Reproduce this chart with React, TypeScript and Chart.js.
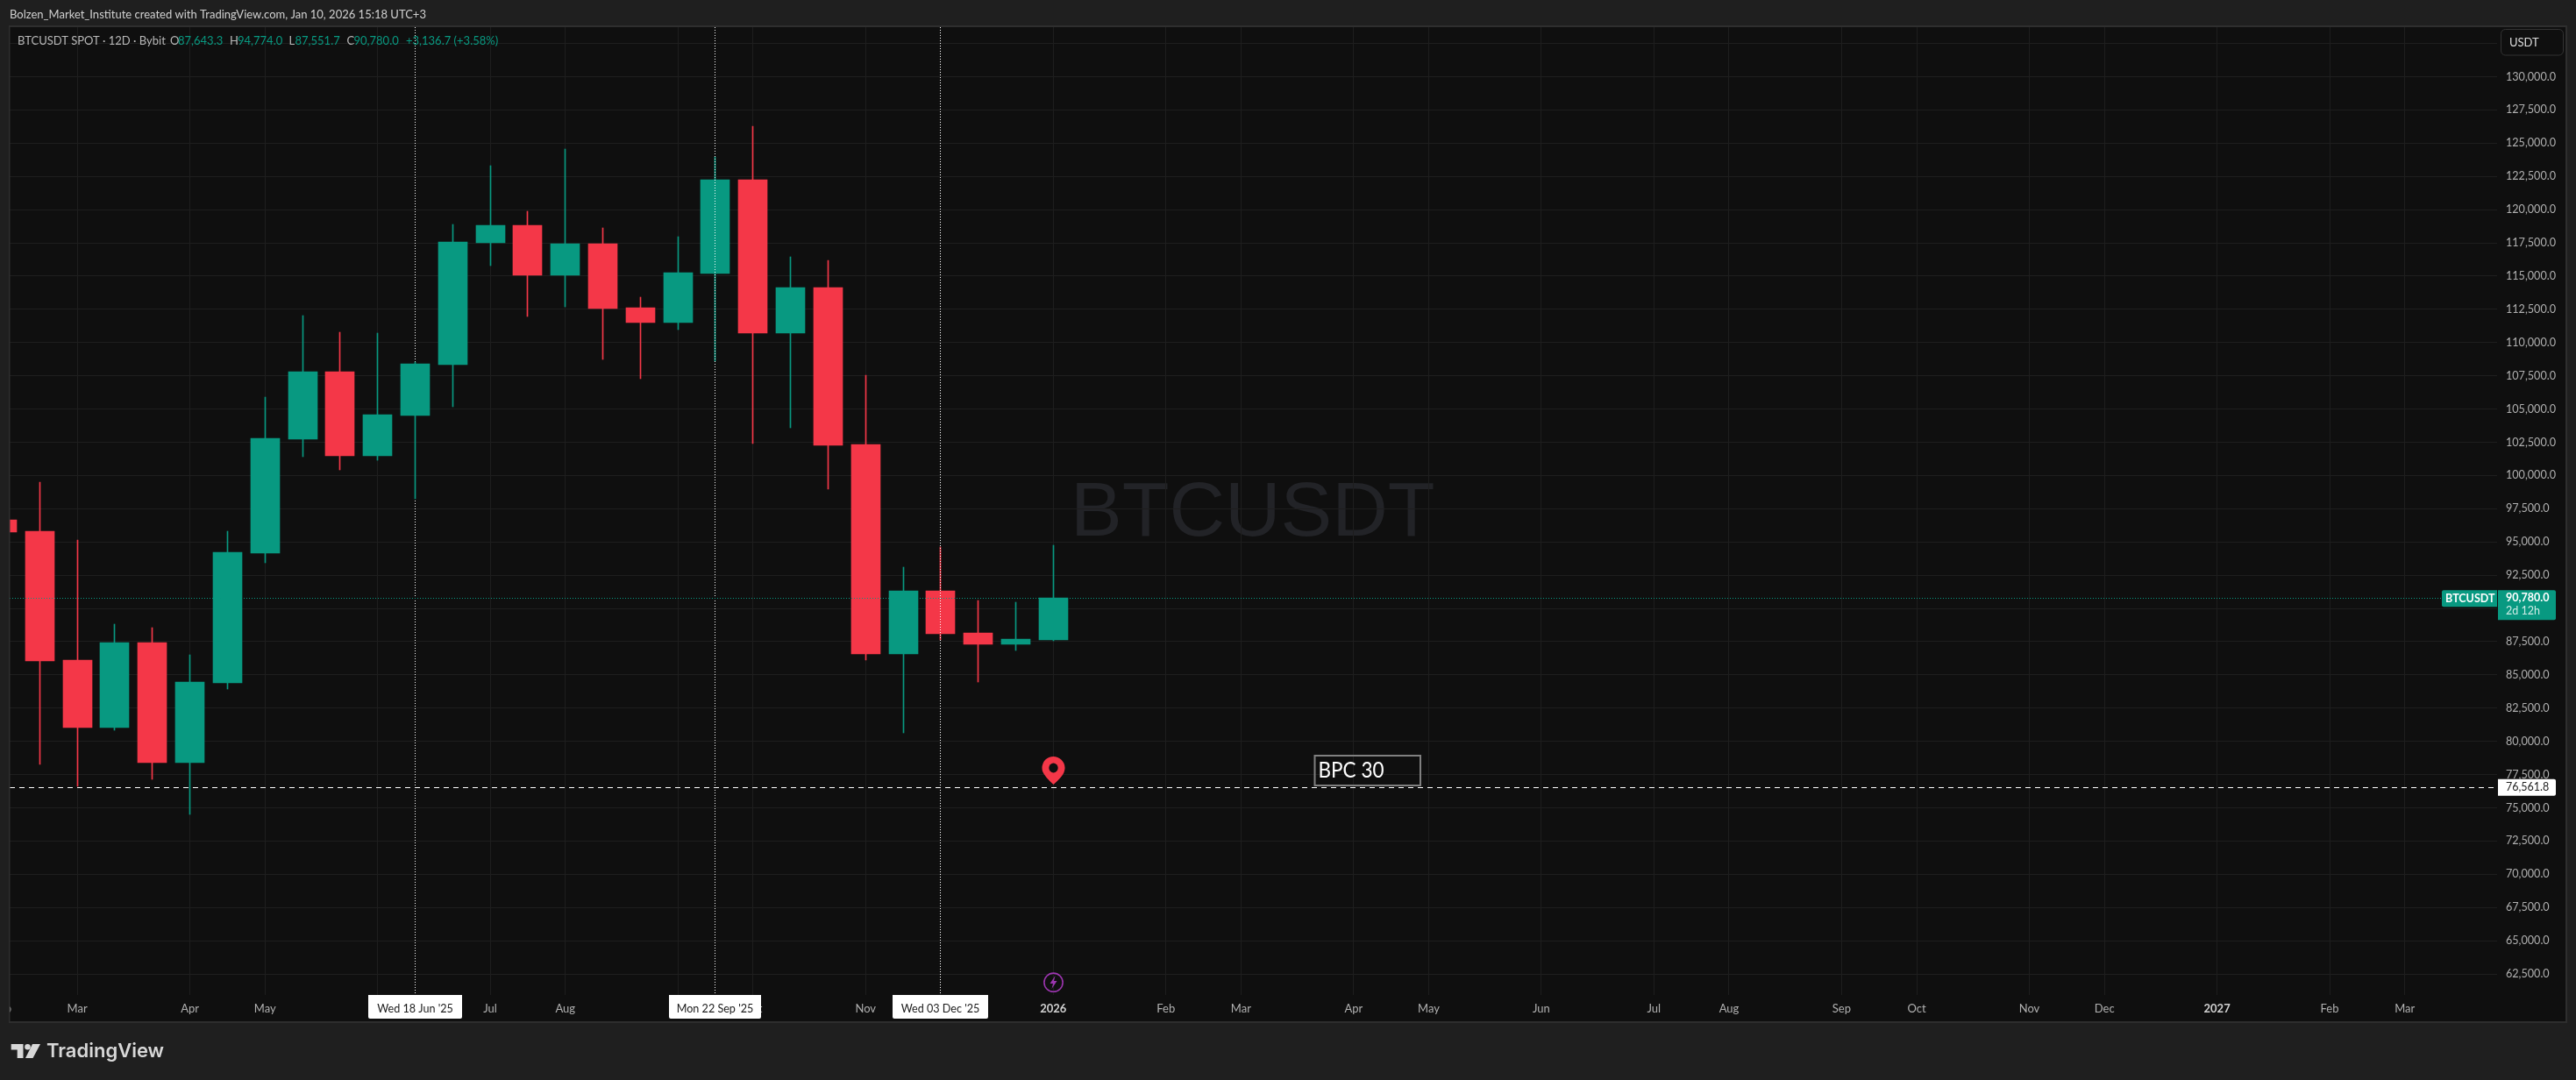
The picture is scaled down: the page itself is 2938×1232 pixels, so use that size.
import React, { useEffect, useRef } from "react";
import { Chart, registerables } from "chart.js";

Chart.register(...registerables);

const W = 2938;
const H = 1232;

// 12D bars, bar index 0 is the first full candle at the left edge
const barIndex = [-1, 0, 1, 2, 3, 4, 5, 6, 7, 8, 9, 10, 11, 12, 13, 14, 15, 16, 17, 18, 19, 20, 21, 22, 23, 24, 25, 26, 27];
const opens = [96664, 95806, 86112, 81034, 87431, 78396, 84398, 94158, 102731, 107809, 101478, 104511, 108336, 117503, 118822, 115063, 117437, 112623, 111502, 115195, 122251, 110710, 114140, 102335, 86574, 91322, 88157, 87299, 87643.3];
const highs = [96664, 99500, 95147, 88816, 88552, 86508, 95806, 105896, 112029, 110776, 110710, 108534, 118888, 123306, 119877, 124559, 118624, 113414, 117965, 123966, 126274, 116448, 116184, 107545, 93103, 94619, 90597, 90465, 94774];
const lows = [95740, 78284, 76600, 80856, 77163, 74525, 83936, 93432, 101412, 100423, 101148, 98246, 105171, 115788, 111963, 112689, 108732, 107281, 110974, 108600, 102421, 103588, 98972, 86112, 80639, 87629, 84464, 86838, 87551.7];
const closes = [95740, 86046, 81034, 87431, 78396, 84464, 94224, 102797, 107809, 101478, 104577, 108402, 117569, 118822, 115063, 117437, 112557, 111502, 115261, 122251, 110710, 114140, 102269, 86574, 91322, 88091, 87299, 87695, 90780];

const priceTicks = [62500, 65000, 67500, 70000, 72500, 75000, 77500, 80000, 82500, 85000, 87500, 90000, 92500, 95000, 97500, 100000, 102500, 105000, 107500, 110000, 112500, 115000, 117500, 120000, 122500, 125000, 127500, 130000, 132500];
const priceLabels = ["62,500.0", "65,000.0", "67,500.0", "70,000.0", "72,500.0", "75,000.0", "77,500.0", "80,000.0", "82,500.0", "85,000.0", "87,500.0", "90,000.0", "92,500.0", "95,000.0", "97,500.0", "100,000.0", "102,500.0", "105,000.0", "107,500.0", "110,000.0", "112,500.0", "115,000.0", "117,500.0", "120,000.0", "122,500.0", "125,000.0", "127,500.0", "130,000.0", ""];

const timeTickIndex = [-1, 1, 4, 6, 9, 12, 14, 17, 19, 22, 24, 27, 30, 32, 35, 37, 40, 43, 45, 48, 50, 53, 55, 58, 61, 63];
const timeTickLabels = ["Feb", "Mar", "Apr", "May", "Jun", "Jul", "Aug", "Sep", "Oct", "Nov", "Dec", "2026", "Feb", "Mar", "Apr", "May", "Jun", "Jul", "Aug", "Sep", "Oct", "Nov", "Dec", "2027", "Feb", "Mar"];

const crosshairIndex = [10, 18, 24];
const crosshairLabels = ["Wed 18 Jun '25", "Mon 22 Sep '25", "Wed 03 Dec '25"];
const crosshairTagWidths = [107, 105, 109];

const lastPrice = 90780.0;
const horizontalLevel = 76561.8;
const markerIndex = 27;

const GREEN = "#089981";
const RED = "#F43748";
const PANE = "#0F0F0F";
const OUTER = "#1F1F1F";
const FRAME = "#2E2E2E";
const GRID = "#1E1E1E";
const FONT = "Lato";

const isUp = (i: number) => closes[i] >= opens[i];
const candleColors = barIndex.map((_, i) => (isUp(i) ? GREEN : RED));

function text(ctx: CanvasRenderingContext2D, s: string, x: number, y: number, font: string, color: string, align: CanvasTextAlign = "left", maxWidth?: number) {
  ctx.font = font;
  ctx.fillStyle = color;
  ctx.textAlign = align;
  ctx.textBaseline = "middle";
  if (maxWidth) ctx.fillText(s, x, y, maxWidth);
  else ctx.fillText(s, x, y);
}

function crosshair(ctx: CanvasRenderingContext2D, chart: any, i: number) {
  const x = Math.floor(chart.scales.x.getPixelForValue(crosshairIndex[i])) + 0.5;
  ctx.save();
  ctx.strokeStyle = "#FFFFFF";
  ctx.lineWidth = 1;
  ctx.setLineDash([1, 2]);
  ctx.beginPath();
  ctx.moveTo(x, 31);
  ctx.lineTo(x, 1135);
  ctx.stroke();
  ctx.restore();
}

const tvPlugin = {
  id: "tvOverlay",
  beforeDraw(chart: any) {
    const ctx = chart.ctx as CanvasRenderingContext2D;
    ctx.save();
    ctx.fillStyle = PANE;
    ctx.fillRect(0, 0, W, H);
    ctx.font = `88px "Liberation Sans"`;
    ctx.fillStyle = "#222327";
    ctx.textAlign = "left";
    ctx.textBaseline = "alphabetic";
    ctx.fillText("BTCUSDT", 1221, 611);
    ctx.restore();
  },
  afterDatasetsUpdate(chart: any) {
    // snap candles to whole device pixels, as the original renderer does
    chart.data.datasets.forEach((_: any, d: number) => {
      chart.getDatasetMeta(d).data.forEach((el: any) => {
        el.x = Math.floor(el.x) + 0.5;
        el.y = Math.round(el.y);
        el.base = Math.round(el.base);
      });
    });
  },
  beforeDatasetsDraw(chart: any) {
    crosshair(chart.ctx, chart, 0);
  },
  afterDatasetsDraw(chart: any) {
    const ctx = chart.ctx as CanvasRenderingContext2D;
    const { x: sx, y: sy } = chart.scales;
    crosshair(ctx, chart, 1);
    crosshair(ctx, chart, 2);

    ctx.save();
    const yLast = Math.round(sy.getPixelForValue(lastPrice)) + 0.5;
    ctx.strokeStyle = GREEN;
    ctx.lineWidth = 1;
    ctx.setLineDash([1, 2]);
    ctx.beginPath();
    ctx.moveTo(11, yLast);
    ctx.lineTo(2786, yLast);
    ctx.stroke();

    const yLevel = Math.round(sy.getPixelForValue(horizontalLevel)) + 0.5;
    ctx.strokeStyle = "#FFFFFF";
    ctx.setLineDash([6, 5]);
    ctx.beginPath();
    ctx.moveTo(11, yLevel);
    ctx.lineTo(2846, yLevel);
    ctx.stroke();
    ctx.restore();

    // pin marker
    const px = Math.floor(sx.getPixelForValue(markerIndex)) + 0.5;
    ctx.save();
    ctx.fillStyle = "#F43748";
    ctx.beginPath();
    ctx.arc(px, 876, 13, Math.PI * 0.87, Math.PI * 0.13);
    ctx.quadraticCurveTo(px + 10, 886, px, 895);
    ctx.quadraticCurveTo(px - 10, 886, px - 12.4, 880);
    ctx.closePath();
    ctx.fill();
    ctx.fillStyle = PANE;
    ctx.beginPath();
    ctx.ellipse(px, 876, 5.2, 5.4, 0, 0, Math.PI * 2);
    ctx.fill();

    // lightning earnings marker
    ctx.strokeStyle = "#9C35AF";
    ctx.lineWidth = 1.6;
    ctx.beginPath();
    ctx.arc(px, 1120.7, 10.6, 0, Math.PI * 2);
    ctx.stroke();
    ctx.fillStyle = "#9C35AF";
    ctx.beginPath();
    ctx.moveTo(px + 2, 1113);
    ctx.lineTo(px - 4, 1122);
    ctx.lineTo(px - 0.5, 1122);
    ctx.lineTo(px - 2, 1128);
    ctx.lineTo(px + 4, 1119);
    ctx.lineTo(px + 0.5, 1119);
    ctx.closePath();
    ctx.fill();
    ctx.restore();

    // BPC 30 note
    ctx.save();
    ctx.strokeStyle = "#808080";
    ctx.lineWidth = 2;
    ctx.strokeRect(1499.5, 862, 120.5, 34);
    text(ctx, "BPC 30", 1503.5, 879, `25px ${FONT}`, "#FFFFFF", "left", 75);
    ctx.restore();
  },
  afterDraw(chart: any) {
    const ctx = chart.ctx as CanvasRenderingContext2D;
    const { x: sx, y: sy } = chart.scales;
    ctx.save();

    // crosshair date tags
    crosshairIndex.forEach((idx, i) => {
      const cx = Math.floor(sx.getPixelForValue(idx)) + 0.5;
      const w = crosshairTagWidths[i];
      ctx.fillStyle = "#FFFFFF";
      ctx.beginPath();
      ctx.roundRect(cx - w / 2, 1135, w, 27, [0, 0, 2, 2]);
      ctx.fill();
      text(ctx, crosshairLabels[i], cx, 1151, `12.6px ${FONT}`, "#1A1A1A", "center");
    });

    // last price tags
    const yLast = sy.getPixelForValue(lastPrice);
    ctx.fillStyle = GREEN;
    ctx.beginPath();
    ctx.roundRect(2785, yLast - 9, 63, 19, [2, 0, 0, 2]);
    ctx.fill();
    text(ctx, "BTCUSDT", 2789, yLast + 0.5, `bold 12.5px ${FONT}`, "#FFFFFF");
    ctx.fillStyle = GREEN;
    ctx.beginPath();
    ctx.roundRect(2849, yLast - 9, 66, 34, [0, 2, 2, 0]);
    ctx.fill();
    text(ctx, "90,780.0", 2858, yLast, `bold 12.5px ${FONT}`, "#FFFFFF");
    text(ctx, "2d 12h", 2858, yLast + 15, `12.5px ${FONT}`, "#CDEBE5");

    // horizontal level tag
    const yLevel = sy.getPixelForValue(horizontalLevel);
    ctx.fillStyle = "#FFFFFF";
    ctx.beginPath();
    ctx.roundRect(2849, yLevel - 9, 66, 19, [0, 2, 2, 0]);
    ctx.fill();
    text(ctx, "76,561.8", 2858, yLevel, `12.5px ${FONT}`, "#222222");

    // currency box
    ctx.fillStyle = PANE;
    ctx.strokeStyle = "#333333";
    ctx.lineWidth = 1;
    ctx.beginPath();
    ctx.roundRect(2852.5, 33.5, 71, 29.5, 5);
    ctx.fill();
    ctx.stroke();
    text(ctx, "USDT", 2862, 48.5, `13px ${FONT}`, "#DDDDDD");

    // OHLC legend
    const grey = "#B8B8B8";
    const f = `13px ${FONT}`;
    text(ctx, "BTCUSDT SPOT · 12D · Bybit", 20, 46.5, f, grey);
    text(ctx, "O", 194, 46.5, f, grey);
    text(ctx, "87,643.3", 203, 46.5, f, GREEN);
    text(ctx, "H", 262, 46.5, f, grey);
    text(ctx, "94,774.0", 271, 46.5, f, GREEN);
    text(ctx, "L", 329.5, 46.5, f, grey);
    text(ctx, "87,551.7", 336.5, 46.5, f, GREEN);
    text(ctx, "C", 395.5, 46.5, f, grey);
    text(ctx, "90,780.0", 403.5, 46.5, f, GREEN);
    text(ctx, "+3,136.7 (+3.58%)", 463, 46.5, f, GREEN);

    // surrounding page chrome
    ctx.fillStyle = OUTER;
    ctx.fillRect(0, 0, W, 29);
    ctx.fillRect(0, 1167, W, H - 1167);
    ctx.fillRect(0, 0, 10, H);
    ctx.fillRect(2928, 0, W - 2928, H);
    ctx.fillStyle = FRAME;
    ctx.fillRect(10, 29, 2918, 2);
    ctx.fillRect(10, 1165, 2918, 2);
    ctx.fillRect(10, 29, 1.5, 1138);
    ctx.fillRect(2926, 29, 2, 1138);

    text(ctx, "Bolzen_Market_Institute created with TradingView.com, Jan 10, 2026 15:18 UTC+3", 11, 16.5, `13px ${FONT}`, "#D0D0D0");

    // TradingView logo
    ctx.fillStyle = "#D8D8D8";
    ctx.beginPath();
    ctx.moveTo(12.7, 1191);
    ctx.lineTo(26.5, 1191);
    ctx.lineTo(26.5, 1207);
    ctx.lineTo(19.7, 1207);
    ctx.lineTo(19.7, 1197.5);
    ctx.lineTo(12.7, 1197.5);
    ctx.closePath();
    ctx.fill();
    ctx.beginPath();
    ctx.arc(31.5, 1194.3, 3.3, 0, Math.PI * 2);
    ctx.fill();
    ctx.beginPath();
    ctx.moveTo(37, 1191);
    ctx.lineTo(46, 1191);
    ctx.lineTo(37.5, 1207);
    ctx.lineTo(29, 1207);
    ctx.closePath();
    ctx.fill();
    text(ctx, "TradingView", 53, 1199.5, `600 22px Inter`, "#D8D8D8");
    ctx.restore();
  },
};

export default function App() {
  const ref = useRef<HTMLCanvasElement>(null);
  useEffect(() => {
    document.body.style.margin = "0";
    document.body.style.background = OUTER;
    const chart = new Chart(ref.current as HTMLCanvasElement, {
      type: "bar",
      data: {
        datasets: [
          {
            label: "Body",
            data: barIndex.map((x, i) => ({ x, y: [Math.min(opens[i], closes[i]), Math.max(opens[i], closes[i])] })),
            backgroundColor: candleColors,
            barThickness: 33,
            grouped: false,
          },
          {
            label: "Wick",
            data: barIndex.map((x, i) => ({ x, y: [lows[i], highs[i]] })),
            backgroundColor: candleColors,
            barThickness: 1,
            grouped: false,
          },
        ],
      } as any,
      options: {
        responsive: false,
        animation: false,
        devicePixelRatio: 1,
        layout: { autoPadding: false, padding: { left: 0, right: 0, top: 31, bottom: 67 } },
        plugins: { legend: { display: false }, tooltip: { enabled: false } },
        scales: {
          x: {
            type: "linear",
            offset: false,
            min: -1.058,
            max: 65.46,
            border: { display: false },
            grid: { color: GRID, lineWidth: 1, drawTicks: false, offset: false },
            afterBuildTicks: (s: any) => {
              s.ticks = timeTickIndex.map((value) => ({ value }));
            },
            afterFit: (s: any) => {
              s.height = 30;
              s.paddingLeft = 0;
              s.paddingRight = 0;
            },
            ticks: {
              autoSkip: false,
              maxRotation: 0,
              minRotation: 0,
              padding: 8,
              color: (c: any) => (c.tick && (c.tick.value === 27 || c.tick.value === 58) ? "#D0D0D0" : "#B0B0B0"),
              font: (c: any) => ({ family: FONT, size: 13, weight: c.tick && (c.tick.value === 27 || c.tick.value === 58) ? "bold" : "normal" }),
              callback: (v: any) => timeTickLabels[timeTickIndex.indexOf(v)] ?? "",
            },
          },
          y: {
            type: "linear",
            position: "right",
            min: 60922,
            max: 133726,
            border: { display: false },
            grid: { color: GRID, lineWidth: 1, drawTicks: false },
            afterBuildTicks: (s: any) => {
              s.ticks = priceTicks.map((value) => ({ value }));
            },
            afterFit: (s: any) => {
              s.width = 90;
              s.paddingTop = 0;
              s.paddingBottom = 0;
            },
            ticks: {
              padding: 10,
              color: "#B0B0B0",
              font: { family: FONT, size: 12.6 },
              callback: (v: any) => priceLabels[priceTicks.indexOf(v)] ?? "",
            },
          },
        },
      } as any,
      plugins: [tvPlugin as any],
    });
    return () => chart.destroy();
  }, []);
  return (
    <div style={{ position: "fixed", left: 0, top: 0, width: W, height: H }}>
      <canvas ref={ref} width={W} height={H} style={{ display: "block", width: W, height: H }} />
    </div>
  );
}
